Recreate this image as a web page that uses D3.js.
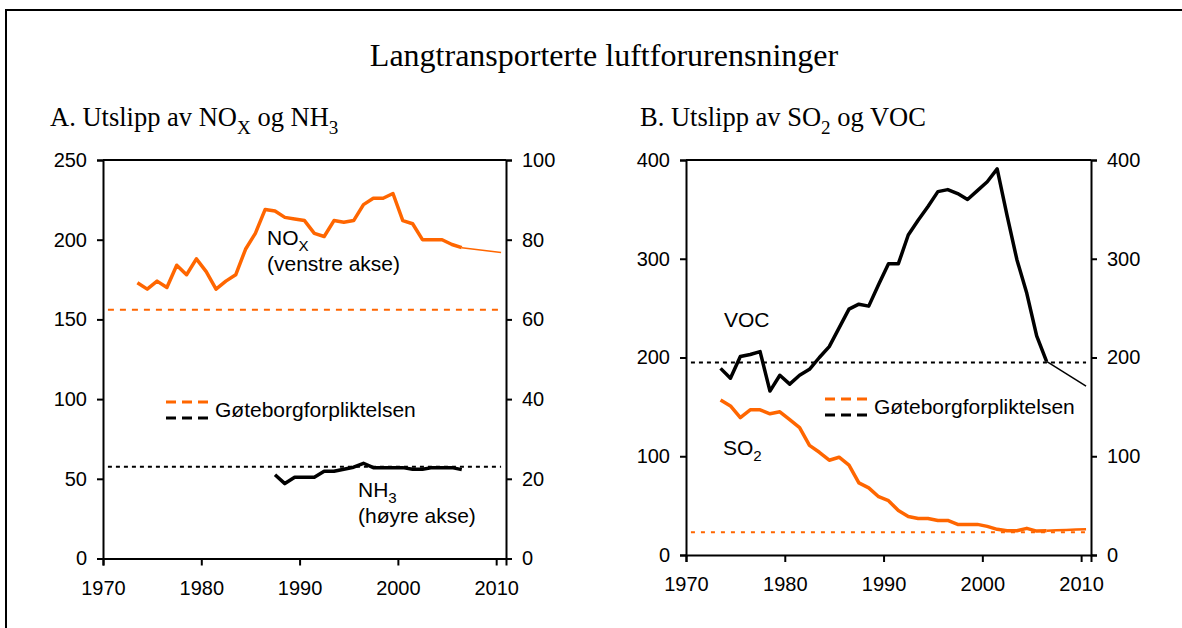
<!DOCTYPE html>
<html>
<head>
<meta charset="utf-8">
<script src="https://cdn.jsdelivr.net/npm/d3@7"></script>
<style>
  body { margin: 0; background: #fff; }
  svg text { fill: #000; }
</style>
</head>
<body>
<svg id="chart"></svg>
<script>
const width = 1182;
const height = 628;
const orange = '#ff6600';

// years with measured emissions
const years = d3.range(1973, 2007);
const nh3Years = d3.range(1987, 2007);

// panel A, NOx (left axis, 1000 tonn)
const noxValues = [173, 169, 174, 170, 184, 178, 188, 180, 169, 174, 178, 194,
  204, 219, 218, 214, 213, 212, 204, 202, 212, 211, 212, 222, 226, 226, 229,
  212, 210, 200, 200, 200, 197, 195];
const noxProjection = [[2006, 195], [2010, 192]];
const noxTarget = 156;

// panel A, NH3 (right axis)
const nh3Values = [21, 18.8, 20.4, 20.4, 20.4, 21.9, 21.9, 22.4, 22.9, 23.9,
  22.8, 22.8, 22.8, 22.8, 22.4, 22.4, 22.8, 22.8, 22.8, 22.3];
const nh3Target = 23;

// panel B, VOC and SO2
const vocValues = [189, 179, 201, 203, 206, 166, 182, 173, 182, 188, 200, 211,
  230, 249, 254, 252, 274, 295, 295, 324, 339, 353, 368, 370, 366, 360, 369,
  378, 391, 344, 299, 265, 222, 196];
const vocProjection = [[2006, 196], [2010, 171]];
const vocTarget = 195;

const so2Values = [157, 151, 139, 147, 147, 143, 145, 137, 129, 111, 104, 96,
  99, 91, 73, 68, 59, 55, 45, 39, 37, 37, 35, 35, 31, 31, 31, 29, 26, 24.5,
  24.5, 27, 24.2, 24.5];
const so2Projection = [[2006, 24.5], [2007, 25], [2008, 25.3], [2009, 25.7], [2010, 26]];
const so2Target = 23;

const xTicks = [1970, 1980, 1990, 2000, 2010];

const svg = d3.select('#chart')
  .attr('width', width)
  .attr('height', height)
  .style('font-family', 'Liberation Sans, Arial, sans-serif');

// outer frame (left + top only)
svg.append('path')
  .attr('d', `M6,${height} V10 H${width}`)
  .attr('fill', 'none')
  .attr('stroke', '#000')
  .attr('stroke-width', 2);

svg.append('text')
  .attr('x', 604)
  .attr('y', 66)
  .attr('text-anchor', 'middle')
  .style('font-family', 'Liberation Serif, Times New Roman, serif')
  .style('font-size', '32px')
  .text('Langtransporterte luftforurensninger');

function richText(x, y, parts, size, serif) {
  const t = svg.append('text')
    .attr('x', x)
    .attr('y', y)
    .style('font-size', size + 'px');
  if (serif) t.style('font-family', 'Liberation Serif, Times New Roman, serif');
  let prevSub = false;
  parts.forEach(([s, sub]) => {
    const sp = t.append('tspan')
      .style('font-size', sub ? (size * 0.72) + 'px' : null)
      .text(s);
    if (sub) sp.attr('dy', size * 0.3);
    else if (prevSub) sp.attr('dy', -size * 0.3);
    prevSub = !!sub;
  });
  return t;
}

function panel(cfg) {
  const x = d3.scaleLinear().domain([1970, 2011]).range([cfg.left, cfg.right]);
  const yL = d3.scaleLinear().domain(cfg.leftDomain).range([cfg.bottom, cfg.top]);
  const yR = d3.scaleLinear().domain(cfg.rightDomain).range([cfg.bottom, cfg.top]);

  const styleAxis = g => {
    g.select('.domain').attr('stroke-width', 2);
    g.selectAll('.tick line').attr('stroke-width', 2);
    g.selectAll('.tick text')
      .attr('font-size', 20)
      .style('font-size', '20px')
      .style('font-family', 'Liberation Sans, Arial, sans-serif');
  };

  svg.append('g')
    .attr('transform', `translate(0,${cfg.bottom})`)
    .call(d3.axisBottom(x).tickValues(xTicks).tickFormat(d3.format('d'))
      .tickSizeOuter(0).tickSize(7).tickPadding(15))
    .call(styleAxis);

  svg.append('g')
    .attr('transform', `translate(${cfg.left},0)`)
    .call(d3.axisLeft(yL).tickValues(cfg.leftTicks).tickSizeOuter(0).tickSize(6).tickPadding(10))
    .call(styleAxis);

  svg.append('g')
    .attr('transform', `translate(${cfg.right},0)`)
    .call(d3.axisRight(yR).tickValues(cfg.rightTicks).tickSizeOuter(0).tickSize(6).tickPadding(10))
    .call(styleAxis);

  svg.append('line')
    .attr('x1', cfg.left).attr('x2', cfg.right)
    .attr('y1', cfg.top).attr('y2', cfg.top)
    .attr('stroke', '#000').attr('stroke-width', 2);

  return {x, yL, yR};
}

function drawLine(pts, x, y, color, w) {
  svg.append('path')
    .datum(pts)
    .attr('d', d3.line().x(d => x(d[0] + 0.5)).y(d => y(d[1])))
    .attr('fill', 'none')
    .attr('stroke', color)
    .attr('stroke-width', w)
    .attr('stroke-linejoin', 'round');
}

function drawTarget(value, x, y, color, dash) {
  svg.append('line')
    .attr('x1', x(1970.5)).attr('x2', x(2010.5))
    .attr('y1', y(value)).attr('y2', y(value))
    .attr('stroke', color)
    .attr('stroke-width', 2)
    .attr('stroke-dasharray', dash);
}

function legend(x0, y0) {
  svg.append('line')
    .attr('x1', x0).attr('x2', x0 + 42).attr('y1', y0).attr('y2', y0)
    .attr('stroke', orange).attr('stroke-width', 3).attr('stroke-dasharray', '10,6');
  svg.append('line')
    .attr('x1', x0).attr('x2', x0 + 42).attr('y1', y0 + 16).attr('y2', y0 + 16)
    .attr('stroke', '#000').attr('stroke-width', 3).attr('stroke-dasharray', '10,6');
  svg.append('text')
    .attr('x', x0 + 49).attr('y', y0 + 15)
    .style('font-size', '21px')
    .text('Gøteborgforpliktelsen');
}

// ---- panel A ----
richText(50, 126, [['A. Utslipp av NO'], ['X', true], [' og NH'], ['3', true]], 26.5, true);

const A = panel({
  left: 103, right: 506, top: 160, bottom: 558.5,
  leftDomain: [0, 250], rightDomain: [0, 100],
  leftTicks: [0, 50, 100, 150, 200, 250], rightTicks: [0, 20, 40, 60, 80, 100]
});

drawTarget(noxTarget, A.x, A.yL, orange, '6,6');
drawTarget(nh3Target, A.x, A.yR, '#000', '4,4');
drawLine(noxProjection, A.x, A.yL, orange, 1.5);
drawLine(years.map((yr, i) => [yr, noxValues[i]]), A.x, A.yL, orange, 3.5);
drawLine(nh3Years.map((yr, i) => [yr, nh3Values[i]]), A.x, A.yR, '#000', 3.5);

richText(267, 245, [['NO'], ['X', true]], 21);
richText(267, 271, [['(venstre akse)']], 21);
richText(358, 497, [['NH'], ['3', true]], 21);
richText(358, 523, [['(høyre akse)']], 21);
legend(166, 402);

// ---- panel B ----
richText(640, 126, [['B. Utslipp av SO'], ['2', true], [' og VOC']], 26.5, true);

const B = panel({
  left: 686, right: 1091, top: 160, bottom: 555,
  leftDomain: [0, 400], rightDomain: [0, 400],
  leftTicks: [0, 100, 200, 300, 400], rightTicks: [0, 100, 200, 300, 400]
});

drawTarget(vocTarget, B.x, B.yL, '#000', '4,4');
drawTarget(so2Target, B.x, B.yL, orange, '4,6');
drawLine(vocProjection, B.x, B.yL, '#000', 1.5);
drawLine(so2Projection, B.x, B.yL, orange, 2.5);
drawLine(years.map((yr, i) => [yr, vocValues[i]]), B.x, B.yL, '#000', 3.5);
drawLine(years.map((yr, i) => [yr, so2Values[i]]), B.x, B.yL, orange, 3.5);

richText(724, 327, [['VOC']], 21);
richText(723, 455, [['SO'], ['2', true]], 21);
legend(825, 399);
</script>
</body>
</html>
